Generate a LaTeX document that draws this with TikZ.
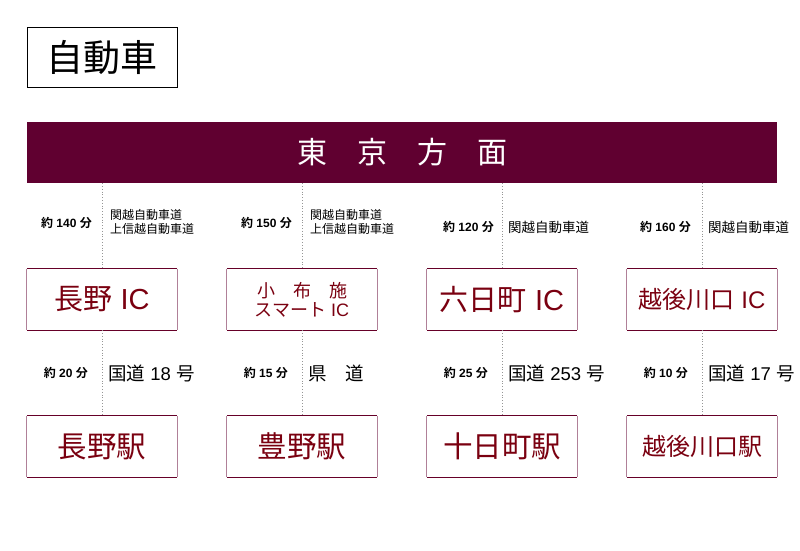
\documentclass[tikz,border=0pt]{standalone}
\usepackage{fontspec}
\setmainfont{Liberation Sans}
\newfontfamily\cjk{Noto Sans CJK JP}[BoldFont={Noto Sans CJK JP Bold}]
\newcommand{\J}[1]{{\cjk #1}}
\definecolor{banner}{RGB}{96,0,48}
\definecolor{boxtext}{RGB}{122,0,16}
\definecolor{boxside}{RGB}{176,128,152}
\definecolor{boxtop}{RGB}{102,0,40}
\definecolor{dotc}{RGB}{150,150,150}
\tikzset{
  place/.style={minimum width=150pt,minimum height=61pt,inner sep=0pt,text=boxtext,align=center},
  sideline/.style={draw=boxside,line width=1.2pt},
  topline/.style={draw=boxtop,line width=1.1pt},
  conn/.style={draw=dotc,dotted,line width=0.8pt},
  tlabel/.style={font=\bfseries\fontsize{12}{14}\selectfont,anchor=east,inner sep=0pt},
  tlabelb/.style={font=\bfseries\fontsize{12}{14}\selectfont,anchor=east,inner sep=0pt},
  road/.style={font=\fontsize{12}{14}\selectfont,anchor=west,inner sep=0pt,align=left},
  roadb/.style={font=\fontsize{18.5}{20}\selectfont,anchor=west,inner sep=0pt}
}
\begin{document}
\begin{tikzpicture}[x=1pt,y=-1pt]
\useasboundingbox (0,0) rectangle (800,550);
% title
\node[draw=black,line width=1pt,minimum width=150pt,minimum height=60pt,inner sep=0pt,font=\cjk\fontsize{37}{40}\selectfont] (title) at (102,57) {自動車};
% banner
\node[fill=banner,minimum width=750pt,minimum height=61pt,inner sep=0pt,text=white,font=\cjk\fontsize{30}{32}\selectfont] (banner) at (402,152.5) {東　京　方　面};
% IC boxes
\node[place,font=\fontsize{29}{32}\selectfont] (ic1) at (102,299.5) {\J{長野} IC};
\node[place,font=\fontsize{18}{19}\selectfont] (ic2) at (302,299.5) {\J{小　布　施}\\\J{スマート} IC};
\node[place,font=\fontsize{29}{32}\selectfont] (ic3) at (502,299.5) {\J{六日町} IC};
\node[place,font=\fontsize{24}{28}\selectfont] (ic4) at (702,299.5) {\J{越後川口} IC};
% station boxes
\node[place,font=\cjk\fontsize{29.5}{32}\selectfont] (st1) at (102,446.5) {長野駅};
\node[place,font=\cjk\fontsize{29.5}{32}\selectfont] (st2) at (302,446.5) {豊野駅};
\node[place,font=\cjk\fontsize{29.5}{32}\selectfont] (st3) at (502,446.5) {十日町駅};
\node[place,font=\cjk\fontsize{24}{28}\selectfont] (st4) at (702,446.5) {越後川口駅};
% box borders
\foreach \n in {ic1,ic2,ic3,ic4,st1,st2,st3,st4}{
  \draw[sideline] (\n.north west) -- (\n.south west);
  \draw[sideline] (\n.north east) -- (\n.south east);
  \draw[topline] (\n.north west) -- (\n.north east);
  \draw[topline] (\n.south west) -- (\n.south east);
}
% connectors
\foreach \i in {1,2,3,4}{
  \draw[conn] (ic\i.north |- banner.south) -- (ic\i.north);
  \draw[conn] (ic\i.south) -- (st\i.north);
}
% upper labels
\node[tlabel] (t1) at (92,223) {\J{約} 140 \J{分}};
\node[road,font=\cjk\fontsize{12}{14}\selectfont] (r1) at (110,222) {関越自動車道\\上信越自動車道};
\node[tlabel] (t2) at (292,223) {\J{約} 150 \J{分}};
\node[road,font=\cjk\fontsize{12}{14}\selectfont] (r2) at (310,222) {関越自動車道\\上信越自動車道};
\node[tlabel] (t3) at (494,227) {\J{約} 120 \J{分}};
\node[road,font=\cjk\fontsize{13.5}{15}\selectfont] (r3) at (508,227) {関越自動車道};
\node[tlabel] (t4) at (691,227) {\J{約} 160 \J{分}};
\node[road,font=\cjk\fontsize{13.5}{15}\selectfont] (r4) at (708,227) {関越自動車道};
% lower labels
\node[tlabelb] (u1) at (88,373) {\J{約} 20 \J{分}};
\node[roadb] (s1) at (108,373) {\J{国道} 18 \J{号}};
\node[tlabelb] (u2) at (288,373) {\J{約} 15 \J{分}};
\node[roadb] (s2) at (308,373) {\J{県　道}};
\node[tlabelb] (u3) at (488,373) {\J{約} 25 \J{分}};
\node[roadb] (s3) at (508,373) {\J{国道} 253 \J{号}};
\node[tlabelb] (u4) at (688,373) {\J{約} 10 \J{分}};
\node[roadb] (s4) at (708,373) {\J{国道} 17 \J{号}};
\end{tikzpicture}
\end{document}
